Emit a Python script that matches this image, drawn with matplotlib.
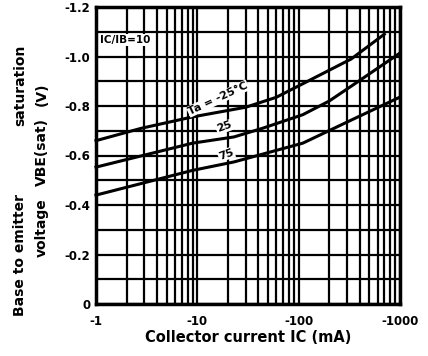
import numpy as np
import matplotlib
matplotlib.use("Agg")
import matplotlib.pyplot as plt
from matplotlib.ticker import FixedLocator, NullFormatter

# Data
ic_m25 = [1, 2.8, 9, 30, 60, 110, 330, 700]
vbe_m25 = [-0.66, -0.71, -0.756, -0.795, -0.835, -0.89, -0.99, -1.09]

ic_25 = [1, 9, 23, 44, 110, 200, 330, 1000]
vbe_25 = [-0.553, -0.65, -0.675, -0.71, -0.765, -0.82, -0.88, -1.014]

ic_75 = [1, 9, 23, 110, 330, 1000]
vbe_75 = [-0.44, -0.54, -0.574, -0.65, -0.743, -0.836]

x_ticks = [1, 10, 100, 1000]
x_ticklabels = ["-1", "-10", "-100", "-1000"]
y_ticks = [0, -0.2, -0.4, -0.6, -0.8, -1.0, -1.2]
y_ticklabels = ["0", "-0.2", "-0.4", "-0.6", "-0.8", "-1.0", "-1.2"]

fig = plt.figure(figsize=(4.28, 3.56), dpi=100)
ax = fig.add_axes([96/428, 1-304/356, (400-96)/428, (304-7)/356])

ax.set_xscale("log")
ax.set_xlim(1, 1000)
ax.set_ylim(0, -1.2)

# grid
minor = [m * 10**d for d in range(3) for m in range(2, 10)]
ax.xaxis.set_major_locator(FixedLocator(x_ticks))
ax.xaxis.set_minor_locator(FixedLocator(minor))
ax.xaxis.set_minor_formatter(NullFormatter())
ax.set_xticklabels(x_ticklabels)
ax.yaxis.set_major_locator(FixedLocator(y_ticks))
ax.yaxis.set_minor_locator(FixedLocator(list(np.round(np.arange(-0.1, -1.21, -0.2), 2))))
ax.set_yticklabels(y_ticklabels)
ax.grid(True, which="both", color="black", linewidth=1.6)
ax.tick_params(which="both", length=0, labelsize=8.5)
ax.tick_params(axis="x", pad=8)
ax.tick_params(axis="y", pad=4)
for lab in ax.get_xticklabels() + ax.get_yticklabels():
    lab.set_fontweight("bold")
for sp in ax.spines.values():
    sp.set_linewidth(2.5)

for x, y in [(ic_m25, vbe_m25), (ic_25, vbe_25), (ic_75, vbe_75)]:
    ax.plot(x, y, color="black", linewidth=2.2, clip_on=False, zorder=3)

box = dict(facecolor="white", edgecolor="none", pad=0.5)
ax.text(16, -0.83, "Ta = -25°C", rotation=25, fontsize=8, fontweight="bold",
        ha="center", va="center", bbox=box, zorder=4)
ax.text(18.4, -0.715, "25", rotation=20, fontsize=8, fontweight="bold",
        ha="center", va="center", bbox=box, zorder=4)
ax.text(19.3, -0.605, "75", rotation=20, fontsize=8, fontweight="bold",
        ha="center", va="center", bbox=box, zorder=4)
ax.text(1.1, -1.067, "IC/IB=10", fontsize=7.5, fontweight="bold",
        ha="left", va="center", bbox=box, zorder=4)

ax.set_xlabel("Collector current IC (mA)", fontsize=10.5, fontweight="bold", labelpad=1)

ylab_kw = dict(rotation=90, fontsize=10, fontweight="bold", ha="center", va="center")
fig.text(20/428, 1-255/356, "Base to emitter", **ylab_kw)
fig.text(20/428, 1-85/356, "saturation", **ylab_kw)
fig.text(42/428, 1-228/356, "voltage", **ylab_kw)
fig.text(42/428, 1-152/356, "VBE(sat)", **ylab_kw)
fig.text(42/428, 1-94/356, "(V)", **ylab_kw)

fig.savefig("out.png", dpi=100)
